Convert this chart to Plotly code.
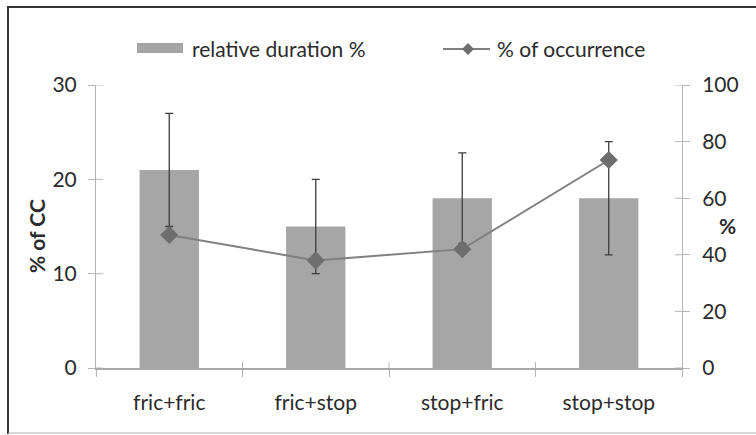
import plotly.graph_objects as go

categories = ["fric+fric", "fric+stop", "stop+fric", "stop+stop"]
rel_duration = [21, 15, 18, 18]
rel_duration_err = [6, 5, 4.8, 6]
occurrence = [47, 38, 42, 73.5]
left_ticks = [0, 10, 20, 30]
right_ticks = [0, 20, 40, 60, 80, 100]

W, H = 756, 435
L, R, T, B = 96, 682, 85, 368

def px(x):
    return (x - L) / (R - L)

def py(y):
    return (B - y) / (B - T)

FONT = "Lato"
FS = 21
TXT = "#2b2b2b"
AX = "#b5b5b5"

fig = go.Figure()
fig.add_trace(go.Bar(
    x=categories, y=rel_duration, name="relative duration %",
    marker=dict(color="#a6a6a6", line=dict(width=0)),
    width=0.405,
    error_y=dict(type="data", array=rel_duration_err, color="#3c3c3c",
                 thickness=1.3, width=4),
    yaxis="y", showlegend=False,
))
fig.add_trace(go.Scatter(
    x=categories, y=occurrence, name="% of occurrence", mode="lines+markers",
    line=dict(color="#808080", width=2),
    marker=dict(symbol="diamond", size=14, color="#6e6e6e"),
    yaxis="y2", showlegend=False,
))

common_tick = dict(tickfont=dict(family=FONT, size=FS, color=TXT))
fig.update_layout(
    width=W, height=H,
    margin=dict(l=L, r=W - R, t=T, b=H - B, pad=0),
    paper_bgcolor="white", plot_bgcolor="white",
    showlegend=False,
    xaxis=dict(
        type="category", categoryorder="array", categoryarray=categories,
        range=[-0.5, 3.5], showline=True, linecolor="#a8a8a8", linewidth=1.5,
        ticks="outside", ticklen=7, tickcolor=AX, tickson="boundaries",
        ticklabelstandoff=15, showgrid=False, zeroline=False, **common_tick,
    ),
    yaxis=dict(
        range=[0, 30], tickvals=left_ticks, showline=True, linecolor=AX,
        linewidth=1, ticks="outside", ticklen=7, tickcolor=AX,
        ticklabelstandoff=7, showgrid=False, zeroline=False, **common_tick,
    ),
    yaxis2=dict(
        range=[0, 100], tickvals=right_ticks, overlaying="y", side="right",
        showline=True, linecolor=AX, linewidth=1, ticks="outside", ticklen=7,
        tickcolor=AX, ticklabelstandoff=8, showgrid=False, zeroline=False,
        **common_tick,
    ),
)

shapes = []
annotations = []
# inner halves of crossing ticks
for v in left_ticks:
    shapes.append(dict(type="line", xref="paper", yref="y", x0=0, x1=px(L + 7),
                       y0=v, y1=v, line=dict(color=AX, width=1)))
for v in right_ticks:
    shapes.append(dict(type="line", xref="paper", yref="y2", x0=px(R - 7), x1=1,
                       y0=v, y1=v, line=dict(color=AX, width=1)))
for i in range(len(categories) - 1):
    shapes.append(dict(type="line", xref="x", yref="paper", x0=i + 0.5, x1=i + 0.5,
                       y0=0, y1=py(B - 6), line=dict(color=AX, width=1)))
# frame
shapes.append(dict(type="line", xref="paper", yref="paper", x0=px(8), x1=px(8),
                   y0=py(6), y1=py(434), line=dict(color="#333333", width=2)))
shapes.append(dict(type="line", xref="paper", yref="paper", x0=px(7), x1=px(756),
                   y0=py(7), y1=py(7), line=dict(color="#333333", width=2)))
shapes.append(dict(type="line", xref="paper", yref="paper", x0=px(8), x1=px(756),
                   y0=py(433), y1=py(433), line=dict(color="#b0b0b0", width=1)))
# legend
shapes.append(dict(type="rect", xref="paper", yref="paper", x0=px(137), x1=px(183),
                   y0=py(53), y1=py(43), fillcolor="#a6a6a6", line=dict(width=0)))
annotations.append(dict(text="relative duration %", xref="paper", yref="paper",
                        x=px(190), y=py(49), xanchor="left", yanchor="middle",
                        showarrow=False, font=dict(family=FONT, size=FS, color=TXT)))
shapes.append(dict(type="line", xref="paper", yref="paper", x0=px(443), x1=px(490),
                   y0=py(49), y1=py(49), line=dict(color="#808080", width=2)))
cx, cy, d = 468, 49, 6
shapes.append(dict(type="path", xref="paper", yref="paper",
                   path=f"M{px(cx-d)},{py(cy)} L{px(cx)},{py(cy-d)} L{px(cx+d)},{py(cy)} L{px(cx)},{py(cy+d)} Z",
                   fillcolor="#6e6e6e", line=dict(width=0)))
annotations.append(dict(text="% of occurrence", xref="paper", yref="paper",
                        x=px(495), y=py(49), xanchor="left", yanchor="middle",
                        showarrow=False, font=dict(family=FONT, size=FS, color=TXT)))
# axis titles
annotations.append(dict(text="<b>% of CC</b>", xref="paper", yref="paper",
                        x=px(36), y=py(236), xanchor="center", yanchor="middle",
                        textangle=-90, showarrow=False,
                        font=dict(family=FONT, size=FS, color=TXT)))
annotations.append(dict(text="<b>%</b>", xref="paper", yref="paper",
                        x=px(727), y=py(225), xanchor="center", yanchor="middle",
                        showarrow=False, font=dict(family=FONT, size=FS, color=TXT)))
fig.update_layout(shapes=shapes, annotations=annotations)

fig.write_html("out.html", config={"displayModeBar": False},
               post_script="document.body.style.margin='0';")
